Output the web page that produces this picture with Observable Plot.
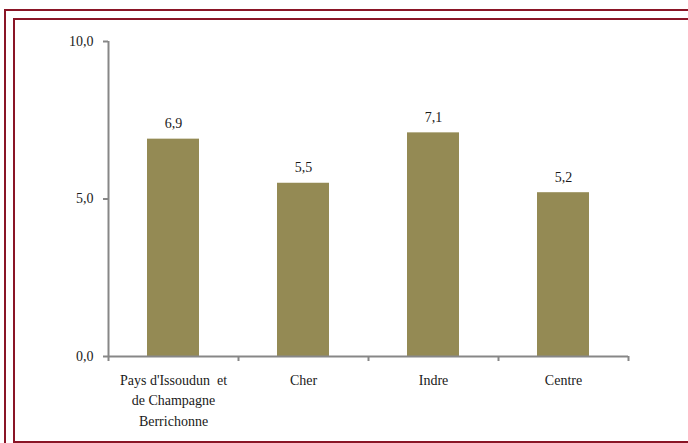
<!DOCTYPE html>
<html>
<head>
<meta charset="utf-8">
<script src="https://cdn.jsdelivr.net/npm/d3@7"></script>
<script src="https://cdn.jsdelivr.net/npm/@observablehq/plot@0.6"></script>
<style>
  html, body { margin: 0; padding: 0; background: #fff; }
  #wrap { position: relative; width: 688px; height: 443px; overflow: hidden; background: #fff; }
  .bd { position: absolute; border: 2px solid #8a1526; box-sizing: border-box; }
  #chart { position: absolute; left: 0; top: 0; }
  #chart svg text { font-family: "Liberation Serif", serif !important; }
</style>
</head>
<body>
<div id="wrap">
  <div class="bd" style="left:4px; top:9px; width:800px; height:800px;"></div>
  <div class="bd" style="left:13px; top:18px; width:800px; height:425px;"></div>
  <div id="chart"></div>
</div>
<script>
const categories = ["Pays d'Issoudun  et\nde Champagne\nBerrichonne", "Cher", "Indre", "Centre"];
const values = [6.9, 5.5, 7.1, 5.2];
const yTicks = [0, 5, 10];

const data = categories.map((c, i) => ({category: c, value: values[i], i}));
const fmt = d => d.toFixed(1).replace(".", ",");
const axisColor = "#878787";
const textColor = "#1a1a1a";
const serif = "Liberation Serif";

const plot = Plot.plot({
  width: 688,
  height: 443,
  marginLeft: 108,
  marginRight: 60,
  marginTop: 41,
  marginBottom: 87,
  style: {fontSize: "14px", color: textColor, background: "transparent"},
  x: {type: "linear", domain: [0, categories.length], axis: null},
  y: {domain: [0, 10], axis: null},
  marks: [
    Plot.rect(data, {x1: d => d.i + 0.3, x2: d => d.i + 0.7, y1: 0, y2: "value", fill: "#948a54"}),
    Plot.ruleY([0], {stroke: axisColor, strokeWidth: 2}),
    Plot.ruleX([0], {y1: 0, y2: 10, stroke: axisColor, strokeWidth: 2}),
    Plot.axisY({ticks: yTicks, tickSize: 5, tickPadding: 10, tickFormat: fmt, label: null, stroke: axisColor, strokeWidth: 2, fill: textColor, fontSize: 14, fontFamily: serif}),
    Plot.axisX({ticks: d3.range(categories.length + 1), tickSize: 5, tickFormat: () => "", label: null, stroke: axisColor, strokeWidth: 2}),
    Plot.text(data, {x: d => d.i + 0.5, y: "value", text: d => fmt(d.value), lineAnchor: "bottom", dy: -11, fill: textColor, fontSize: 14, fontFamily: serif}),
    Plot.text(data, {x: d => d.i + 0.5, y: 0, text: "category", lineAnchor: "top", dy: 14, lineHeight: 1.45, fill: textColor, fontSize: 14, fontFamily: serif})
  ]
});
document.getElementById("chart").appendChild(plot);
</script>
</body>
</html>
